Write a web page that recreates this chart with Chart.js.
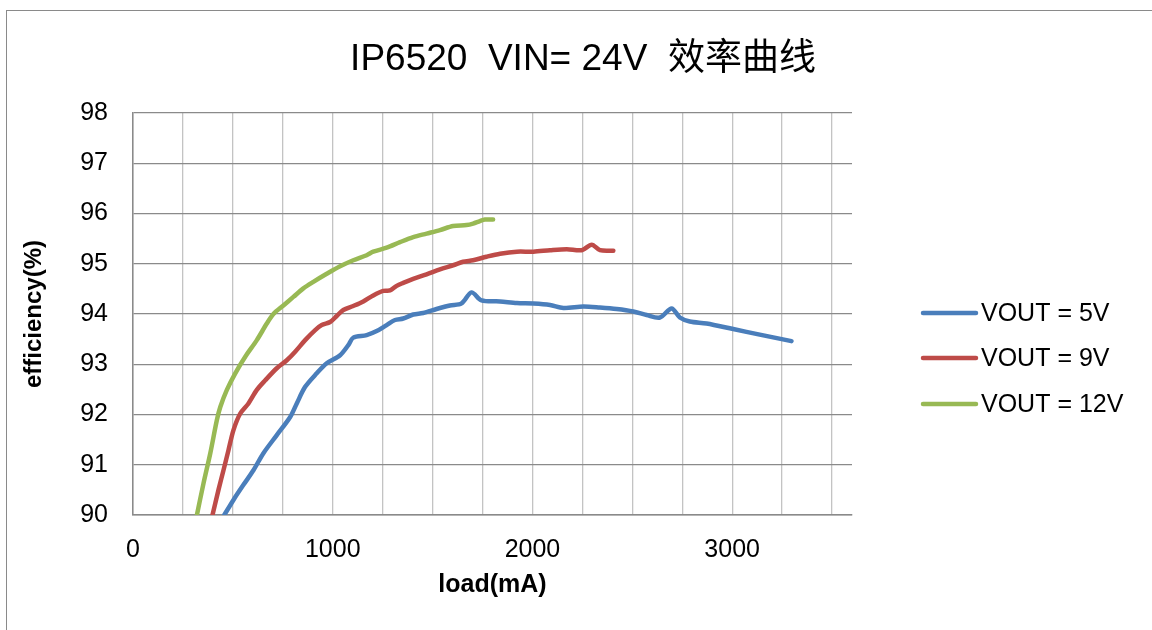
<!DOCTYPE html>
<html>
<head>
<meta charset="utf-8">
<script src="https://cdn.jsdelivr.net/npm/chart.js@4/dist/chart.umd.min.js"></script>
<style>
  html, body { margin:0; padding:0; background:#fff; overflow:hidden; }
  #wrap { position:relative; width:1152px; height:630px; }
  #frame { position:absolute; left:6px; top:10px; width:2000px; height:2000px; border:1.5px solid #8a8a8a; }
  canvas { position:absolute; left:0; top:0; }
</style>
</head>
<body>
<div id="wrap">
  <div id="frame"></div>
  <canvas id="effChart" width="1152" height="630"></canvas>
</div>
<script>
// ------------------ DATA ------------------
const chartTitle = "IP6520  VIN= 24V  效率曲线";
const xTitle = "load(mA)";
const yTitle = "efficiency(%)";
const xTickLabels = ["0", "1000", "2000", "3000"];
const yTickLabels = ["90", "91", "92", "93", "94", "95", "96", "97", "98"];
const seriesNames = ["VOUT = 5V", "VOUT = 9V", "VOUT = 12V"];

const load5V = [457, 503, 553, 603, 653, 720, 787, 820, 862, 920, 970, 1037, 1078, 1103, 1170, 1220, 1270, 1312, 1353, 1403, 1453, 1520, 1587, 1645, 1695, 1745, 1838, 1922, 2005, 2088, 2155, 2255, 2338, 2422, 2505, 2572, 2638, 2697, 2738, 2788, 2872, 3005, 3138, 3297];
const eff5V  = [90.0, 90.30, 90.60, 90.89, 91.23, 91.59, 91.95, 92.22, 92.55, 92.82, 93.02, 93.18, 93.38, 93.53, 93.58, 93.66, 93.78, 93.88, 93.91, 93.99, 94.02, 94.10, 94.17, 94.21, 94.43, 94.27, 94.25, 94.22, 94.21, 94.18, 94.12, 94.15, 94.13, 94.10, 94.05, 93.98, 93.93, 94.11, 93.93, 93.85, 93.81, 93.70, 93.59, 93.46];

const load9V = [398, 428, 453, 478, 503, 537, 578, 620, 662, 720, 770, 812, 862, 912, 945, 987, 1020, 1053, 1103, 1153, 1203, 1253, 1287, 1320, 1353, 1403, 1470, 1537, 1603, 1653, 1703, 1770, 1838, 1922, 2005, 2088, 2172, 2247, 2297, 2338, 2405];
const eff9V  = [90.0, 90.5, 90.89, 91.29, 91.69, 92.02, 92.22, 92.49, 92.68, 92.92, 93.08, 93.25, 93.48, 93.68, 93.78, 93.84, 93.96, 94.08, 94.16, 94.25, 94.37, 94.46, 94.47, 94.56, 94.62, 94.70, 94.79, 94.89, 94.97, 95.04, 95.07, 95.14, 95.20, 95.24, 95.24, 95.27, 95.29, 95.27, 95.38, 95.27, 95.26];

const load12V = [320, 353, 387, 420, 437, 470, 512, 562, 620, 670, 703, 753, 803, 853, 903, 970, 1037, 1103, 1170, 1203, 1270, 1337, 1403, 1470, 1537, 1603, 1670, 1703, 1737, 1762, 1803];
const eff12V  = [90.0, 90.63, 91.23, 91.89, 92.15, 92.49, 92.82, 93.15, 93.48, 93.81, 94.0, 94.17, 94.34, 94.51, 94.64, 94.80, 94.95, 95.07, 95.17, 95.24, 95.32, 95.43, 95.53, 95.60, 95.67, 95.75, 95.77, 95.80, 95.85, 95.88, 95.88];

const seriesColors = ["#4a7ebb", "#be4b48", "#98b954"];

// ------------------ HELPERS ------------------
const FONT = "'Liberation Sans', Arial, 'Noto Sans CJK SC', sans-serif";
function pts(xs, ys){ return xs.map((x,i)=>({x:x, y:ys[i]})); }

const allLoads = [load5V, load9V, load12V];
const allEffs = [eff5V, eff9V, eff12V];

const datasets = seriesNames.map((name,i)=>({
  label: name,
  data: pts(allLoads[i], allEffs[i]),
  borderColor: seriesColors[i],
  backgroundColor: seriesColors[i],
  borderWidth: 4.5,
  borderCapStyle: "round",
  borderJoinStyle: "round",
  pointRadius: 0,
  showLine: true,
  tension: 0.3
}));

// ------------------ TITLE + LEGEND ------------------
const titleLegend = {
  id: "titleLegend",
  afterDraw(chart){
    const ctx = chart.ctx;
    ctx.save();
    ctx.fillStyle = "#000";
    ctx.font = "37px " + FONT;
    ctx.textAlign = "center";
    ctx.textBaseline = "alphabetic";
    ctx.fillText(chartTitle, 583, 70);

    ctx.font = "25px " + FONT;
    ctx.textAlign = "left";
    ctx.textBaseline = "middle";
    const rows = [313, 358, 404];
    chart.data.datasets.forEach((ds,i)=>{
      ctx.strokeStyle = ds.borderColor;
      ctx.lineWidth = 4.5;
      ctx.lineCap = "round";
      ctx.beginPath();
      ctx.moveTo(923, rows[i]);
      ctx.lineTo(976, rows[i]);
      ctx.stroke();
      ctx.fillText(ds.label, 981, rows[i] + 1);
    });
    ctx.restore();
  }
};

// ------------------ CHART ------------------
const ctx = document.getElementById("effChart").getContext("2d");
const chart = new Chart(ctx, {
  type: "scatter",
  data: { datasets: datasets },
  options: {
    responsive: false,
    animation: false,
    layout: { padding: { left: 0, top: 113, right: 300, bottom: 0 } },
    plugins: { legend: { display: false }, title: { display: false }, tooltip: { enabled: false } },
    scales: {
      x: {
        type: "linear",
        min: 0, max: 3600,
        afterFit: s => { s.height = 115; },
        ticks: {
          stepSize: 250,
          includeBounds: false,
          autoSkip: false,
          maxRotation: 0,
          padding: 20,
          color: "#000",
          font: { family: FONT, size: 25 },
          callback: v => xTickLabels.includes(String(v)) ? String(v) : ""
        },
        grid: { color: "#c3c3c3", lineWidth: 1.3, drawTicks: false, tickLength: 0 },
        border: { color: "#8a8a8a", width: 1.5 },
        title: {
          display: true, text: xTitle, color: "#000",
          font: { family: FONT, size: 25, weight: "bold" },
          padding: { top: 30, bottom: 30 }
        }
      },
      y: {
        min: 90, max: 98,
        afterFit: s => { s.width = 133; },
        ticks: {
          stepSize: 1,
          padding: 25,
          color: "#000",
          font: { family: FONT, size: 25 },
          callback: v => yTickLabels.includes(String(v)) ? String(v) : ""
        },
        grid: { color: "#8a8a8a", lineWidth: 1.3, drawTicks: false, tickLength: 0 },
        border: { color: "#8a8a8a", width: 1.5 },
        title: {
          display: true, text: yTitle, color: "#000",
          font: { family: FONT, size: 24, weight: "bold" },
          padding: { top: 20, bottom: 20 }
        }
      }
    }
  },
  plugins: [titleLegend]
});
</script>
</body>
</html>
